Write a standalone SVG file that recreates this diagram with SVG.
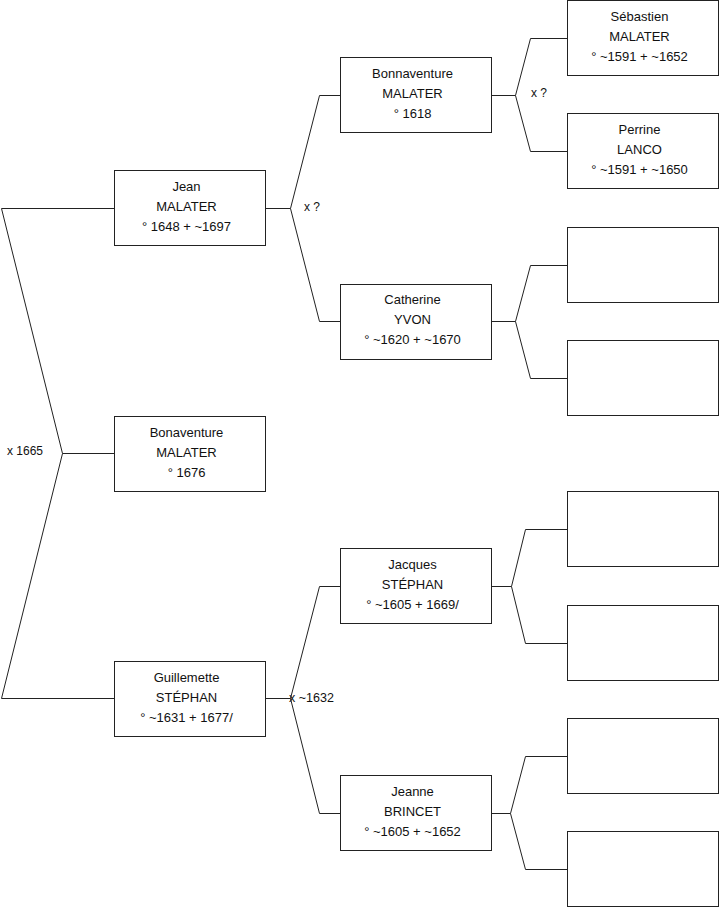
<svg xmlns="http://www.w3.org/2000/svg" width="719" height="908" viewBox="0 0 719 908">
<style>
.box{fill:#fff;stroke:#222;stroke-width:1}
.ln{fill:none;stroke:#222;stroke-width:1}
text{font-family:"Liberation Sans",Arial,sans-serif;font-size:12px;fill:#111}
.c{text-anchor:middle;font-size:13px}
</style>
<rect width="719" height="908" fill="#fff"/>
<g id="connectors">
<polyline class="ln" points="114,208.5 1.5,208.5 62.5,453.5 1.5,698.5 114,698.5"/>
<line class="ln" x1="62.5" y1="453.5" x2="114" y2="453.5"/>
<polyline class="ln" points="340,95.5 319.5,95.5 290.5,208.5 319.5,321.5 340,321.5"/>
<line class="ln" x1="265" y1="208.5" x2="290.5" y2="208.5"/>
<polyline class="ln" points="340,586.5 319.5,586.5 290.5,698.5 319.5,813.5 340,813.5"/>
<line class="ln" x1="265" y1="698.5" x2="290.5" y2="698.5"/>
<polyline class="ln" points="567,38.5 530.5,38.5 515.5,95.5 530.5,151.5 567,151.5"/>
<line class="ln" x1="492" y1="95.5" x2="515.5" y2="95.5"/>
<polyline class="ln" points="567,265.5 530.5,265.5 515.5,321.5 530.5,378.5 567,378.5"/>
<line class="ln" x1="492" y1="321.5" x2="515.5" y2="321.5"/>
<polyline class="ln" points="567,529.5 525.5,529.5 511.5,586.5 525.5,643.5 567,643.5"/>
<line class="ln" x1="492" y1="586.5" x2="511.5" y2="586.5"/>
<polyline class="ln" points="567,756.5 525.5,756.5 510.5,813.5 525.5,869.5 567,869.5"/>
<line class="ln" x1="492" y1="813.5" x2="510.5" y2="813.5"/>
<text x="7" y="455">x 1665</text>
<text x="304" y="211">x ?</text>
<text x="531" y="97">x ?</text>
<text x="289" y="702" style="font-size:12.5px">x ~1632</text>
</g>
<g id="jean"><rect class="box" x="114.5" y="170.5" width="151" height="75"/>
<text class="c" x="186.5" y="191">Jean</text><text class="c" x="186.5" y="211">MALATER</text><text class="c" x="186.5" y="231">° 1648 + ~1697</text></g>
<g id="bonaventure"><rect class="box" x="114.5" y="416.5" width="151" height="75"/>
<text class="c" x="186.5" y="437">Bonaventure</text><text class="c" x="186.5" y="457">MALATER</text><text class="c" x="186.5" y="477">° 1676</text></g>
<g id="guillemette"><rect class="box" x="114.5" y="661.5" width="151" height="75"/>
<text class="c" x="186.5" y="682">Guillemette</text><text class="c" x="186.5" y="702">STÉPHAN</text><text class="c" x="186.5" y="722">° ~1631 + 1677/</text></g>
<g id="bonnaventure"><rect class="box" x="340.5" y="57.5" width="151" height="75"/>
<text class="c" x="412.5" y="78">Bonnaventure</text><text class="c" x="412.5" y="98">MALATER</text><text class="c" x="412.5" y="118">° 1618</text></g>
<g id="catherine"><rect class="box" x="340.5" y="284.5" width="151" height="75"/>
<text class="c" x="412.5" y="304">Catherine</text><text class="c" x="412.5" y="324">YVON</text><text class="c" x="412.5" y="344">° ~1620 + ~1670</text></g>
<g id="jacques"><rect class="box" x="340.5" y="548.5" width="151" height="75"/>
<text class="c" x="412.5" y="569">Jacques</text><text class="c" x="412.5" y="589">STÉPHAN</text><text class="c" x="412.5" y="609">° ~1605 + 1669/</text></g>
<g id="jeanne"><rect class="box" x="340.5" y="775.5" width="151" height="75"/>
<text class="c" x="412.5" y="796">Jeanne</text><text class="c" x="412.5" y="816">BRINCET</text><text class="c" x="412.5" y="836">° ~1605 + ~1652</text></g>
<g id="sebastien"><rect class="box" x="567.5" y="0.5" width="151" height="75"/>
<text class="c" x="639.5" y="21">Sébastien</text><text class="c" x="639.5" y="41">MALATER</text><text class="c" x="639.5" y="61">° ~1591 + ~1652</text></g>
<g id="perrine"><rect class="box" x="567.5" y="113.5" width="151" height="75"/>
<text class="c" x="639.5" y="134">Perrine</text><text class="c" x="639.5" y="154">LANCO</text><text class="c" x="639.5" y="174">° ~1591 + ~1650</text></g>
<g id="empty1"><rect class="box" x="567.5" y="227.5" width="151" height="75"/></g>
<g id="empty2"><rect class="box" x="567.5" y="340.5" width="151" height="75"/></g>
<g id="empty3"><rect class="box" x="567.5" y="491.5" width="151" height="75"/></g>
<g id="empty4"><rect class="box" x="567.5" y="605.5" width="151" height="75"/></g>
<g id="empty5"><rect class="box" x="567.5" y="718.5" width="151" height="75"/></g>
<g id="empty6"><rect class="box" x="567.5" y="831.5" width="151" height="75"/></g>
</svg>
